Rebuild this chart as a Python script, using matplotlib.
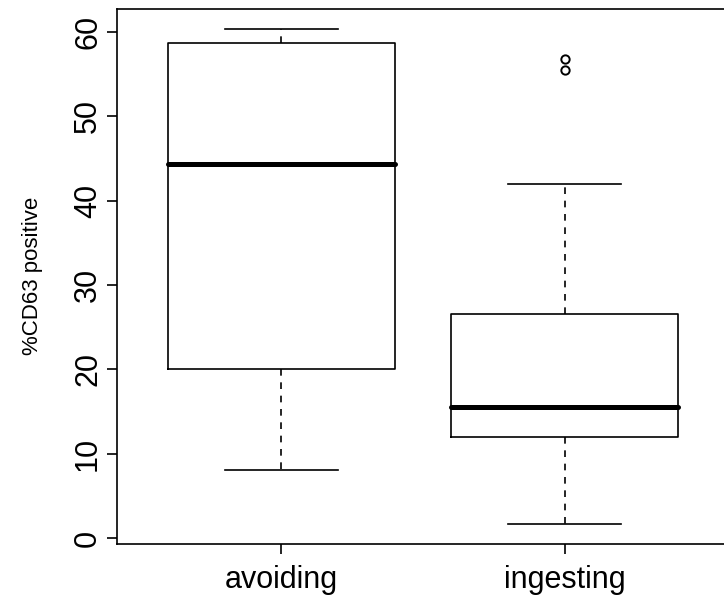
import matplotlib
matplotlib.use("Agg")
import matplotlib.pyplot as plt

plt.rcParams['font.family'] = ['Liberation Sans', 'DejaVu Sans']

# groups and five-number summaries
groups = ["avoiding", "ingesting"]
whislo = [8.1, 1.7]
q1 = [20.0, 12.0]
med = [44.4, 15.5]
q3 = [58.7, 26.6]
whishi = [60.4, 42.0]
fliers = [[], [55.5, 56.8]]

stats = []
for i in range(len(groups)):
    stats.append({"label": groups[i], "whislo": whislo[i], "q1": q1[i], "med": med[i],
                  "q3": q3[i], "whishi": whishi[i], "fliers": fliers[i]})

fig = plt.figure(figsize=(7.24, 5.98), dpi=100)
# R style plot region; right side runs past the image edge like the original
ax = fig.add_axes([117 / 724, (598 - 543.8) / 598, (729 - 117) / 724, (543.8 - 8.8) / 598])

ax.bxp(stats, positions=[1, 2], widths=0.8, showfliers=True,
       boxprops=dict(color="black", linewidth=1.2),
       whiskerprops=dict(color="black", linewidth=1.2, linestyle=(0, (4, 4))),
       capprops=dict(color="black", linewidth=1.2),
       medianprops=dict(color="black", linewidth=3.6, solid_capstyle="round"),
       flierprops=dict(marker="o", markerfacecolor="none", markeredgecolor="black",
                       markersize=6, markeredgewidth=1.4),
       capwidths=0.4)

ax.set_xlim(0.42, 2.58)
ax.set_ylim(-0.69, 62.75)
ax.set_yticks([0, 10, 20, 30, 40, 50, 60])
ax.set_xticks([1, 2])
ax.set_xticklabels(groups)
for lbl in ax.get_yticklabels():
    lbl.set_rotation(90)
    lbl.set_va("center")
ax.tick_params(axis="both", labelsize=22, length=7, width=1.2)
ax.tick_params(axis="x", pad=8)
ax.tick_params(axis="y", pad=3)
ax.set_ylabel("%CD63 positive", fontsize=16, labelpad=22)

for s in ax.spines.values():
    s.set_linewidth(1.2)

fig.savefig("out.png", dpi=100)
